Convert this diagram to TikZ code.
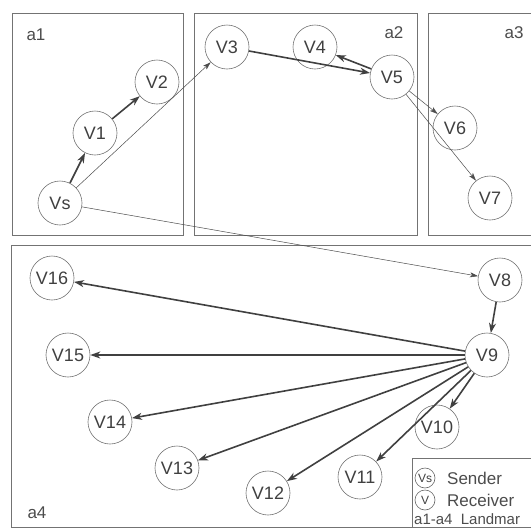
\documentclass[tikz,border=0pt]{standalone}
\usepackage{fontspec}
\setmainfont{Liberation Sans}
\usetikzlibrary{arrows.meta}

\begin{document}
\begin{tikzpicture}[x=1pt,y=-1pt,
    vertex/.style={circle, draw=black!55, line width=0.6pt, minimum size=44pt,
      inner sep=0pt, text=black!75, font=\fontsize{18}{18}\selectfont},
    tiny/.style={circle, draw=black!60, line width=0.6pt, minimum size=20pt,
      inner sep=0pt, text=black!75, font=\fontsize{12}{12}\selectfont},
    area/.style={draw=black!55, line width=0.7pt},
    tag/.style={text=black!70, font=\fontsize{17}{17}\selectfont},
    strong/.style={-{Stealth[length=10pt,width=7pt,inset=3pt]}, line width=1.6pt, draw=black!75},
    weak/.style={-{Stealth[length=8pt,width=5pt,inset=2pt]}, line width=0.5pt, draw=black!70}]
  \useasboundingbox (0,0) rectangle (531,528);
  \clip (0,0) rectangle (531,528);
  % landmark areas
  \draw[area] (12,13) rectangle (183,235);
  \draw[area] (194,13) rectangle (417,235);
  \draw[area] (428,13) rectangle (560,235);
  \draw[area] (11,245) rectangle (560,527);
  \node[tag] (a1) at (36,35) {a1};
  \node[tag] (a2) at (394,33) {a2};
  \node[tag] (a3) at (514,33) {a3};
  \node[tag] (a4) at (37,513) {a4};
  % vertices
  \node[vertex] (vs) at (60,203) {Vs};
  \node[vertex] (v1) at (95,133) {V1};
  \node[vertex] (v2) at (157,82) {V2};
  \node[vertex] (v3) at (227,47) {V3};
  \node[vertex] (v4) at (315,47) {V4};
  \node[vertex] (v5) at (392,77) {V5};
  \node[vertex] (v6) at (455,128) {V6};
  \node[vertex] (v7) at (490,198) {V7};
  \node[vertex] (v8) at (500,280) {V8};
  \node[vertex] (v9) at (487,355) {V9};
  \node[vertex] (v10) at (437,427) {V10};
  \node[vertex] (v11) at (360,477) {V11};
  \node[vertex] (v12) at (268,493) {V12};
  \node[vertex] (v13) at (177,468) {V13};
  \node[vertex] (v14) at (110,422) {V14};
  \node[vertex] (v15) at (68,355) {V15};
  \node[vertex] (v16) at (52,278) {V16};
  % links
  \draw[strong] (vs) -- (v1);
  \draw[strong] (v1) -- (v2);
  \draw[weak] (vs) -- (v3);
  \draw[weak] (vs) -- (v8);
  \draw[strong] (v3) -- (v5);
  \draw[strong] (v5) -- (v4);
  \draw[weak] (v5) -- (v6);
  \draw[weak] (v5) -- (v7);
  \draw[strong] (v8) -- (v9);
  \foreach \t in {10,...,16}
    \draw[strong] (v9) -- (v\t);
  % legend
  \draw[area] (412,458) rectangle (560,540);
  \node[tiny] (ls) at (425,478) {Vs};
  \node[tiny] (lv) at (425,500) {V};
  \node[tag, anchor=west, inner sep=0pt] (lsend) at (447,478) {Sender};
  \node[tag, anchor=west, inner sep=0pt] (lrecv) at (447,500) {Receiver};
  \node[tag, anchor=west, inner sep=0pt, font=\fontsize{15}{15}\selectfont] (lland) at (414,519) {a1-a4\ \ Landmar};
\end{tikzpicture}
\end{document}
